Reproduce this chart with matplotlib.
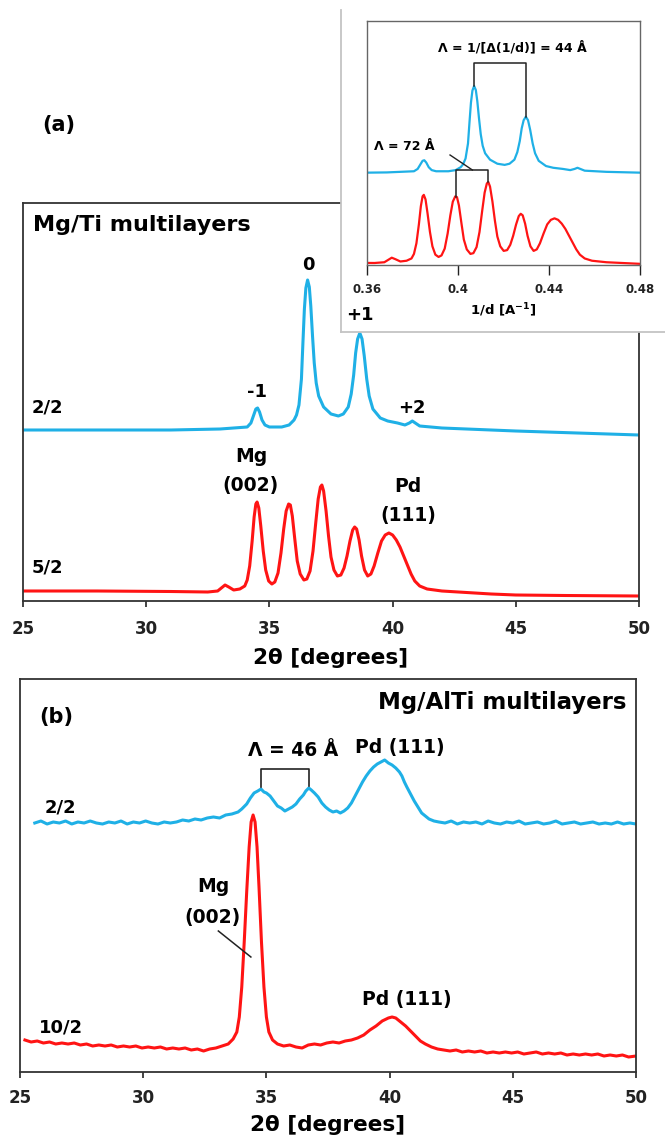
import numpy as np
import matplotlib.pyplot as plt

plt.rcParams['font.family'] = ['DejaVu Sans']
plt.rcParams['font.weight'] = 'bold'
plt.rcParams['mathtext.default'] = 'bf'

BLUE = '#1fb0e6'
RED = '#ff1414'

# (a) Mg/Ti multilayers, 2/2 sample (2theta, intensity a.u.)
tt_a_22 = [25.0, 28.0, 31.0, 33.0, 34.1, 34.25, 34.35, 34.45, 34.52, 34.6, 34.7, 34.82,
           35.0, 35.5, 35.8, 36.0, 36.1, 36.2, 36.3, 36.36, 36.42, 36.48, 36.55, 36.62,
           36.68, 36.75, 36.82, 36.9, 37.0, 37.2, 37.5, 37.8, 38.0, 38.2, 38.32, 38.42,
           38.5, 38.58, 38.67, 38.76, 38.85, 38.95, 39.05, 39.2, 39.5, 39.8, 40.2, 40.5,
           40.68, 40.8, 40.92, 41.1, 42.0, 45.0, 50.0]
i_a_22 = [171, 171, 171, 172, 174, 178, 185, 192, 193, 189, 181, 176,
          174, 174, 176, 181, 186, 196, 222, 258, 292, 313, 321, 314,
          295, 265, 238, 218, 205, 194, 187, 185, 187, 194, 207, 226,
          248, 262, 268, 262, 245, 222, 205, 192, 183, 180, 178, 176,
          178, 180, 178, 175, 173, 170, 166]

# (a) 5/2 sample
tt_a_52 = [25.0, 28.0, 31.0, 32.5, 32.9, 33.1, 33.2, 33.35, 33.55, 33.8, 34.0, 34.1,
           34.2, 34.3, 34.38, 34.45, 34.5, 34.57, 34.65, 34.75, 34.85, 34.97, 35.1, 35.22,
           35.35, 35.47, 35.58, 35.68, 35.78, 35.85, 35.93, 36.03, 36.13, 36.25, 36.4, 36.52,
           36.65, 36.77, 36.88, 36.98, 37.07, 37.13, 37.2, 37.3, 37.4, 37.5, 37.62, 37.76,
           37.9, 38.03, 38.15, 38.27, 38.38, 38.46, 38.54, 38.64, 38.74, 38.86, 38.99, 39.12,
           39.25, 39.4, 39.55, 39.7, 39.85, 40.0, 40.15, 40.3, 40.45, 40.6, 40.75, 40.9,
           41.1, 41.4, 42.0, 43.0, 44.0, 45.0, 47.0, 50.0]
i_a_52 = [10, 10, 9.5, 9, 10, 14, 16, 14, 11, 12, 15, 21,
          35, 60, 84, 97, 99, 93, 75, 50, 31, 20, 17, 19,
          28, 48, 72, 90, 97, 96, 85, 62, 40, 27, 21, 22,
          30, 50, 78, 102, 114, 116, 110, 90, 65, 44, 31, 25,
          26, 33, 45, 60, 71, 74, 72, 61, 45, 31, 25, 27,
          35, 48, 60, 66, 68, 66, 61, 54, 45, 36, 27, 20,
          15, 12, 10, 8.5, 7, 6, 5.5, 5]

# (b) Mg/AlTi multilayers, 2/2 sample
tt_b_22 = [25.6, 25.85, 26.1, 26.35, 26.6, 26.85, 27.1, 27.35, 27.6, 27.85, 28.1, 28.35,
           28.6, 28.85, 29.1, 29.35, 29.6, 29.85, 30.1, 30.35, 30.6, 30.85, 31.1, 31.35,
           31.6, 31.85, 32.1, 32.35, 32.6, 32.85, 33.1, 33.35, 33.6, 33.85, 34.0, 34.2,
           34.35, 34.5, 34.65, 34.78, 34.9, 35.0, 35.15, 35.3, 35.45, 35.6, 35.75, 35.9,
           36.05, 36.2, 36.35, 36.5, 36.6, 36.72, 36.82, 36.95, 37.1, 37.25, 37.4, 37.55,
           37.7, 37.85, 38.0, 38.15, 38.3, 38.45, 38.6, 38.75, 38.9, 39.05, 39.2, 39.35,
           39.5, 39.65, 39.8, 39.95, 40.1, 40.25, 40.4, 40.5, 40.6, 40.7, 40.85, 41.0,
           41.15, 41.3, 41.45, 41.6, 41.8, 42.0, 42.25, 42.5, 42.75, 43.0, 43.25, 43.5,
           43.75, 44.0, 44.25, 44.5, 44.75, 45.0, 45.25, 45.5, 45.75, 46.0, 46.25, 46.5,
           46.75, 47.0, 47.25, 47.5, 47.75, 48.0, 48.25, 48.5, 48.75, 49.0, 49.25, 49.5,
           49.75, 50.0]
i_b_22 = [249, 251, 248, 250, 249, 251, 248, 250, 249, 251, 249, 248,
          250, 249, 251, 248, 250, 249, 251, 249, 248, 250, 249, 250,
          252, 251, 253, 252, 254, 255, 254, 257, 258, 260, 263, 268,
          274, 279, 281, 283, 280, 279, 276, 271, 266, 264, 261, 263,
          265, 268, 273, 277, 281, 284, 282, 279, 275, 269, 265, 262,
          260, 261, 259, 261, 264, 269, 276, 283, 290, 296, 301, 305,
          308, 310, 312, 309, 307, 304, 300, 296, 290, 285, 278, 271,
          265, 259, 256, 253, 251, 250, 249, 251, 248, 250, 249, 250,
          248, 251, 249, 248, 250, 249, 251, 248, 249, 250, 248, 249,
          251, 248, 249, 250, 248, 249, 250, 248, 249, 248, 250, 248,
          249, 248]

# (b) 10/2 sample
tt_b_102 = [25.2, 25.45, 25.7, 25.95, 26.2, 26.45, 26.7, 26.95, 27.2, 27.45, 27.7, 27.95,
            28.2, 28.45, 28.7, 28.95, 29.2, 29.45, 29.7, 29.95, 30.2, 30.45, 30.7, 30.95,
            31.2, 31.45, 31.7, 31.95, 32.2, 32.45, 32.7, 32.95, 33.2, 33.45, 33.65, 33.8,
            33.9, 34.0, 34.1, 34.2, 34.3, 34.38, 34.46, 34.54, 34.62, 34.7, 34.8, 34.9,
            35.0, 35.1, 35.25, 35.45, 35.7, 35.95, 36.2, 36.45, 36.7, 36.95, 37.2, 37.45,
            37.7, 37.95, 38.2, 38.45, 38.7, 38.95, 39.2, 39.45, 39.7, 39.95, 40.1, 40.25,
            40.45, 40.65, 40.85, 41.05, 41.25, 41.45, 41.7, 41.95, 42.2, 42.45, 42.7, 42.95,
            43.2, 43.45, 43.7, 43.95, 44.2, 44.45, 44.7, 44.95, 45.2, 45.45, 45.7, 45.95,
            46.2, 46.45, 46.7, 46.95, 47.2, 47.45, 47.7, 47.95, 48.2, 48.45, 48.7, 48.95,
            49.2, 49.45, 49.7, 50.0]
i_b_102 = [32, 30, 31, 29, 30, 28, 29, 28, 29, 27, 28, 26,
           27, 26, 27, 25, 26, 25, 26, 24, 25, 24, 25, 23,
           24, 23, 24, 22, 23, 21, 23, 24, 26, 28, 33, 40,
           55, 85, 130, 180, 225, 250, 257, 250, 225, 185, 130, 85,
           55, 40, 32, 28, 26, 27, 25, 24, 27, 28, 27, 29,
           30, 29, 31, 32, 34, 37, 42, 46, 51, 54, 55, 54,
           50, 46, 41, 36, 31, 28, 25, 23, 22, 21, 22, 20,
           21, 20, 21, 19, 20, 19, 20, 19, 20, 18, 19, 20,
           18, 19, 18, 19, 17, 18, 17, 18, 17, 18, 16, 17,
           16, 17, 15, 16]

# peak positions used for the bilayer period brackets
peaks_a_22 = [36.55, 38.67]
peaks_a_52 = [35.83, 37.13]
peaks_b_22 = [34.78, 36.72]

xticks_main = [25, 30, 35, 40, 45, 50]
xticks_inset = [0.36, 0.40, 0.44, 0.48]
xtick_labels_inset = ['0.36', '0.4', '0.44', '0.48']


def to_q(tt):
    # 1/d from 2theta, Cu K-alpha
    return 2 * np.sin(np.radians(np.asarray(tt) / 2)) / 1.5406


W, H = 665, 1139
fig = plt.figure(figsize=(W / 100, H / 100), dpi=100)


def px_axes(l, t, r, b):
    return fig.add_axes([l / W, 1 - b / H, (r - l) / W, (b - t) / H])


def style_main(ax, ymax, pad, labelpad):
    ax.set_xlim(25, 50)
    ax.set_ylim(0, ymax)
    ax.set_yticks([])
    ax.set_xticks(xticks_main)
    ax.tick_params(axis='x', direction='out', length=4, width=1.2, pad=pad,
                   labelsize=12, colors='#222222')
    for s in ax.spines.values():
        s.set_color('#333333')
        s.set_linewidth(1.3)
    ax.set_xlabel('2θ [degrees]', fontsize=15.5, fontweight='bold', labelpad=labelpad)


# ---- panel (a)
ax_a = px_axes(23, 203, 639, 601)
ax_a.plot(tt_a_22, i_a_22, color=BLUE, lw=2.2)
ax_a.plot(tt_a_52, i_a_52, color=RED, lw=2.2)
style_main(ax_a, 398, 10, 7)

ax_a.text(25.41, 376, 'Mg/Ti multilayers', fontsize=16, ha='left', va='center')
ax_a.text(36.58, 336, '0', fontsize=13, ha='center', va='center')
ax_a.text(34.51, 209, '-1', fontsize=13, ha='center', va='center')
ax_a.text(40.79, 193, '+2', fontsize=13, ha='center', va='center')
ax_a.text(25.36, 194, '2/2', fontsize=13, ha='left', va='center')
ax_a.text(25.36, 34, '5/2', fontsize=13, ha='left', va='center')
ax_a.text(34.26, 144, 'Mg', fontsize=13.5, ha='center', va='center')
ax_a.text(34.24, 115, '(002)', fontsize=13.5, ha='center', va='center')
ax_a.text(40.63, 114, 'Pd', fontsize=13.5, ha='center', va='center')
ax_a.text(40.64, 85, '(111)', fontsize=13.5, ha='center', va='center')
fig.text(59 / W, 1 - 125 / H, '(a)', fontsize=15, ha='center', va='center')

# ---- panel (b)
ax_b = px_axes(20, 679, 636, 1072)
ax_b.plot(tt_b_22, i_b_22, color=BLUE, lw=2.2)
ax_b.plot(tt_b_102, i_b_102, color=RED, lw=2.2)
style_main(ax_b, 393, 8, 6)

ax_b.text(49.63, 369, 'Mg/AlTi multilayers', fontsize=16.5, ha='right', va='center')
ax_b.text(25.8, 355, '(b)', fontsize=15, ha='left', va='center')
ax_b.text(26.0, 265, '2/2', fontsize=13, ha='left', va='center')
ax_b.text(25.77, 44, '10/2', fontsize=13, ha='left', va='center')
ax_b.text(36.08, 322, 'Λ = 46 Å', fontsize=13.5, ha='center', va='center')
ax_b.text(40.4, 324, 'Pd (111)', fontsize=13.5, ha='center', va='center')
ax_b.text(40.69, 72, 'Pd (111)', fontsize=13.5, ha='center', va='center')
ax_b.text(32.83, 185, 'Mg', fontsize=13.5, ha='center', va='center')
ax_b.text(32.8, 155, '(002)', fontsize=13.5, ha='center', va='center')
ax_b.plot([33.05, 34.37], [141, 115], color='#222222', lw=1.1)

# bracket over the two satellite peaks in (b)
yb = [np.interp(p, tt_b_22, i_b_22) + 2 for p in peaks_b_22]
ax_b.plot([peaks_b_22[0], peaks_b_22[0], peaks_b_22[1], peaks_b_22[1]],
          [yb[0], 303, 303, yb[1]], color='#222222', lw=1.2)

# ---- inset box (white background with light frame)
box = px_axes(341, 10, 680, 332)
box.set_xticks([])
box.set_yticks([])
box.spines['top'].set_visible(False)
box.spines['right'].set_visible(False)
for s in ['left', 'bottom']:
    box.spines[s].set_color('#c4c4c4')
    box.spines[s].set_linewidth(1.3)

# '+1' label sits on top of the inset box
fig.text(38.68, 286, '+1', fontsize=13, ha='center', va='center',
         transform=ax_a.transData)

# ---- inset: same scans against 1/d
ax_in = px_axes(367, 21, 640, 265)
q22 = to_q(tt_a_22)
q52 = to_q(tt_a_52)
y22 = 92 + (np.array(i_a_22) - 171) * 0.58
y52 = 2 + (np.array(i_a_52) - 9) * 0.757
ax_in.plot(q22, y22, color=BLUE, lw=1.6)
ax_in.plot(q52, y52, color=RED, lw=1.6)
ax_in.set_xlim(0.36, 0.48)
ax_in.set_ylim(0, 244)
ax_in.set_yticks([])
ax_in.set_xticks(xticks_inset)
ax_in.set_xticklabels(xtick_labels_inset)
ax_in.tick_params(axis='x', direction='out', length=7, width=1.0, pad=6,
                  labelsize=8.5, colors='#222222')
for s in ax_in.spines.values():
    s.set_color('#666666')
    s.set_linewidth(1.0)
ax_in.set_xlabel('1/d [A$^{-1}$]', fontsize=9.5, fontweight='bold', labelpad=4)

qa = to_q(peaks_a_22)
ya = [np.interp(p, tt_a_22, y22) for p in peaks_a_22]
ax_in.plot([qa[0], qa[0], qa[1], qa[1]], [ya[0], 202, 202, ya[1]],
           color='#222222', lw=1.1)
ax_in.text(0.4237, 217, 'Λ = 1/[Δ(1/d)] = 44 Å', fontsize=9, ha='center', va='center')

qr = to_q(peaks_a_52)
yr = [np.interp(p, tt_a_52, y52) for p in peaks_a_52]
ax_in.plot([qr[0], qr[0], qr[1], qr[1]], [yr[0], 95, 95, yr[1]],
           color='#222222', lw=1.1)
ax_in.plot([0.3965, (qr[0] + qr[1]) / 2], [110, 95], color='#222222', lw=1.0)
ax_in.text(0.3763, 118, 'Λ = 72 Å', fontsize=9, ha='center', va='center')

fig.savefig('out.png', dpi=100)
